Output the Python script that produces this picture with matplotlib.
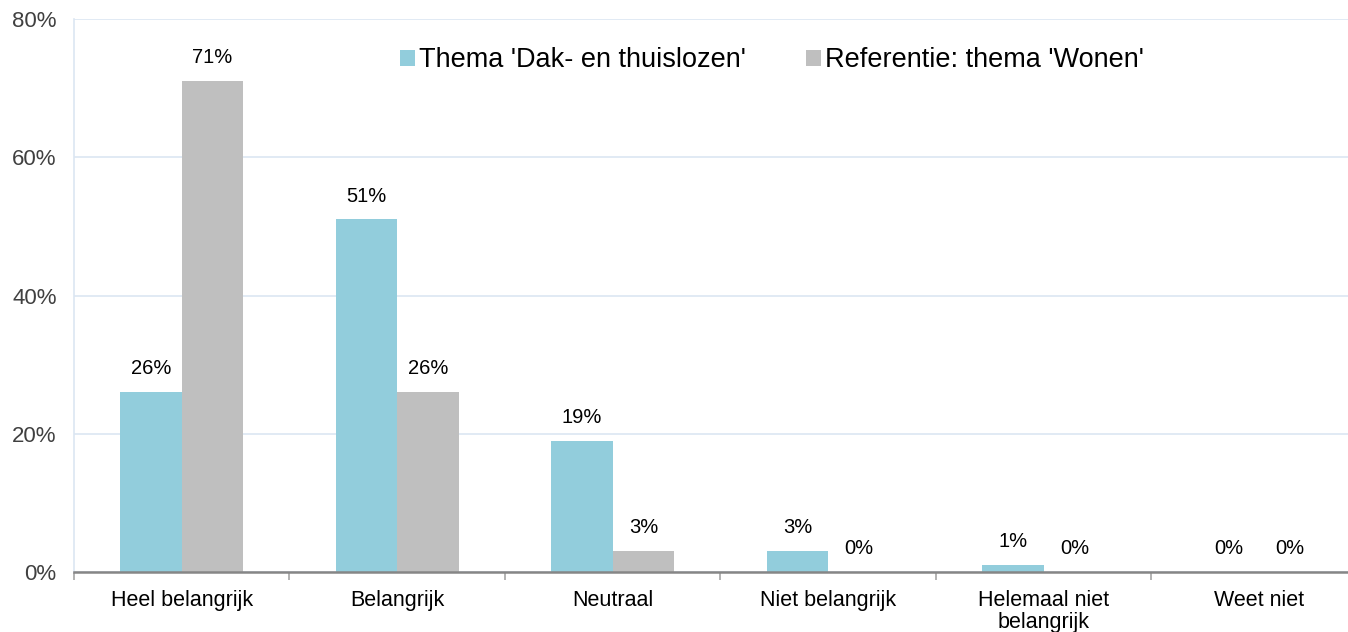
import matplotlib.pyplot as plt
import numpy as np

plt.rcParams['font.family'] = ['Liberation Sans', 'DejaVu Sans']

categories = ['Heel belangrijk', 'Belangrijk', 'Neutraal', 'Niet belangrijk',
              'Helemaal niet\nbelangrijk', 'Weet niet']
dak = [26, 51, 19, 3, 1, 0]
wonen = [71, 26, 3, 0, 0, 0]
series_names = ["Thema 'Dak- en thuislozen'", "Referentie: thema 'Wonen'"]

BLUE = '#92cddc'
GRAY = '#bfbfbf'

fig = plt.figure(figsize=(13.48, 6.32), dpi=100)
ax = fig.add_axes([74 / 1348, 60 / 632, 1293 / 1348, 553 / 632])

x = np.arange(len(categories))
w = 0.285
b1 = ax.bar(x - w / 2, dak, w, color=BLUE, label=series_names[0])
b2 = ax.bar(x + w / 2, wonen, w, color=GRAY, label=series_names[1])

for bars in (b1, b2):
    for r in bars:
        ax.annotate(f'{r.get_height():.0f}%', (r.get_x() + r.get_width() / 2, r.get_height()),
                    xytext=(0, 10), textcoords='offset points', ha='center', va='bottom',
                    fontsize=14.5, color='#000000')

ax.set_ylim(0, 80)
ax.set_xlim(-0.5, len(categories) - 0.5)
ax.set_yticks([0, 20, 40, 60, 80])
ax.set_yticklabels([f'{v}%' for v in [0, 20, 40, 60, 80]], fontsize=16, color='#404040')
ax.yaxis.grid(True, color='#dce6f2', linewidth=1.2)
ax.set_axisbelow(True)
ax.tick_params(axis='y', length=0, pad=12.5)

ax.set_xticks(x)
ax.set_xticklabels(categories, fontsize=15.5, color='#000000', linespacing=1.05)
ax.set_xticks(np.arange(-0.5, len(categories)), minor=True)
ax.tick_params(axis='x', which='major', length=0, pad=13)
ax.tick_params(axis='x', which='minor', length=6, color='#a6a6a6', width=1.2)

for s in ['top', 'right']:
    ax.spines[s].set_visible(False)
ax.spines['left'].set_color('#dce6f2')
ax.spines['left'].set_linewidth(1.2)
ax.spines['bottom'].set_color('#868686')
ax.spines['bottom'].set_linewidth(1.8)

ax.legend(loc='upper left', bbox_to_anchor=(302 / 1293, 0.993), ncol=2, frameon=False,
          fontsize=19.5, handlelength=0.55, handleheight=0.55, handletextpad=0.15,
          columnspacing=2.2)

fig.savefig('out.png', dpi=100)
